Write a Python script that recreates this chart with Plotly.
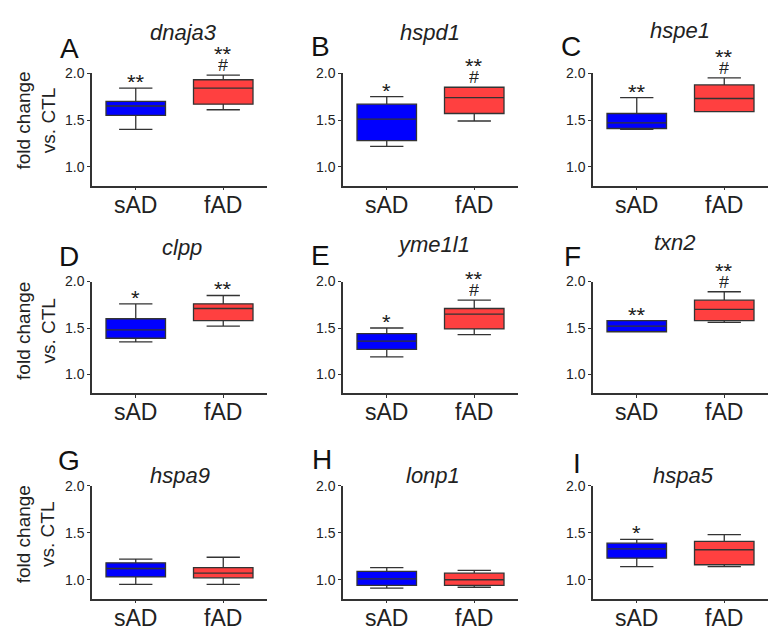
import plotly.graph_objects as go

genes = ['dnaja3', 'hspd1', 'hspe1', 'clpp', 'yme1l1', 'txn2', 'hspa9', 'lonp1', 'hspa5']
letters = ['A', 'B', 'C', 'D', 'E', 'F', 'G', 'H', 'I']
groups = ['sAD', 'fAD']
y_ticks = [1.0, 1.5, 2.0]
y_tick_text = ['1.0', '1.5', '2.0']

# box statistics per gene: lower whisker, q1, median, q3, upper whisker
sad_low = [1.40, 1.22, 1.40, 1.35, 1.19, 1.46, 0.95, 0.91, 1.14]
sad_q1 = [1.55, 1.28, 1.41, 1.39, 1.27, 1.46, 1.03, 0.94, 1.23]
sad_med = [1.65, 1.51, 1.47, 1.48, 1.36, 1.52, 1.12, 1.01, 1.33]
sad_q3 = [1.70, 1.67, 1.57, 1.60, 1.44, 1.58, 1.18, 1.09, 1.39]
sad_high = [1.84, 1.75, 1.74, 1.76, 1.50, 1.58, 1.22, 1.13, 1.43]

fad_low = [1.61, 1.49, 1.59, 1.52, 1.43, 1.56, 0.95, 0.92, 1.14]
fad_q1 = [1.67, 1.57, 1.59, 1.58, 1.49, 1.58, 1.02, 0.94, 1.16]
fad_med = [1.84, 1.74, 1.73, 1.71, 1.65, 1.70, 1.07, 1.00, 1.32]
fad_q3 = [1.93, 1.85, 1.875, 1.76, 1.71, 1.80, 1.13, 1.07, 1.41]
fad_high = [1.98, 1.85, 1.95, 1.85, 1.80, 1.89, 1.24, 1.10, 1.48]

sad_stars = ['**', '*', '**', '*', '*', '**', '', '', '*']
fad_stars = ['**', '**', '**', '**', '**', '**', '', '', '']
fad_hash = ['#', '#', '#', '', '#', '#', '', '', '']

W, H = 777, 639
FONT = 'Liberation Sans, Arial, sans-serif'
col_px = [(92, 267), (343, 518), (593, 768)]
row_px = [(66, 180), (277, 390), (484, 598)]
AX = '#333333'
STAR_FONT = dict(size=22, family=FONT, color='#222')
HASH_FONT = dict(size=18, family=FONT, color='#222')

fig = go.Figure()
layout = dict(width=W, height=H, margin=dict(l=0, r=0, t=0, b=0),
              paper_bgcolor='white', plot_bgcolor='white', showlegend=False,
              font=dict(family=FONT, color='#222222'))
annotations = []


def star_ann(xcat, yval, xa, ya, text, shift):
    # compact box (asterisks sit high in the line box)
    return dict(x=xcat, y=yval, xref=xa, yref=ya, text=text, showarrow=False,
                yanchor='bottom', yshift=shift, height=12, valign='top', font=STAR_FONT)


for i, g in enumerate(genes):
    r, c = divmod(i, 3)
    n = '' if i == 0 else str(i + 1)
    xa, ya = 'x' + n, 'y' + n
    x0, x1 = col_px[c]
    y0, y1 = row_px[r]
    stats = [
        ('sAD', sad_low[i], sad_q1[i], sad_med[i], sad_q3[i], sad_high[i], '#0000ff'),
        ('fAD', fad_low[i], fad_q1[i], fad_med[i], fad_q3[i], fad_high[i], '#ff4040'),
    ]
    for name, lo, q1, md, q3, hi, col in stats:
        fig.add_trace(go.Box(
            x=[name], q1=[q1], median=[md], q3=[q3], lowerfence=[lo], upperfence=[hi],
            fillcolor=col, line=dict(color=AX, width=1.3), width=0.68,
            whiskerwidth=0.56, boxpoints=False, xaxis=xa, yaxis=ya, hoverinfo='skip'))
    layout['xaxis' + n] = dict(
        domain=[x0 / W, x1 / W], anchor=ya, type='category', categoryorder='array',
        categoryarray=groups, range=[-0.5, 1.5], showline=True, linecolor=AX, linewidth=1.5,
        ticks='outside', ticklen=3, tickcolor=AX, tickwidth=1.2, ticklabelstandoff=-5,
        tickfont=dict(size=23, family=FONT, color='#222'), showgrid=False, zeroline=False)
    layout['yaxis' + n] = dict(
        domain=[1 - y1 / H, 1 - y0 / H], anchor=xa, range=[0.8, 2.0],
        tickvals=y_ticks, ticktext=y_tick_text, showline=True, linecolor=AX, linewidth=1.5,
        ticks='outside', ticklen=3, tickcolor=AX, tickwidth=1.2,
        tickfont=dict(size=14, family=FONT, color='#222'), showgrid=False, zeroline=False)

    # significance marks
    if sad_stars[i]:
        annotations.append(star_ann('sAD', sad_high[i], xa, ya, sad_stars[i], 4))
    if fad_hash[i]:
        annotations.append(dict(x='fAD', y=fad_high[i], xref=xa, yref=ya, text=fad_hash[i],
                                showarrow=False, yanchor='bottom', yshift=-2,
                                height=16, valign='bottom', font=HASH_FONT))
        annotations.append(star_ann('fAD', fad_high[i], xa, ya, fad_stars[i], 19))
    elif fad_stars[i]:
        annotations.append(star_ann('fAD', fad_high[i], xa, ya, fad_stars[i], 4))

# panel letters
letter_px = [(69, 41), (320, 39), (571, 39), (69, 252), (320, 251), (572, 252),
             (69, 458), (322, 457), (577, 461)]
for L, (px, py) in zip(letters, letter_px):
    annotations.append(dict(x=px / W, y=1 - py / H, xref='paper', yref='paper', text=L,
                            showarrow=False, xanchor='center', yanchor='middle',
                            font=dict(size=28, family=FONT, color='#111')))

# gene titles
title_px = [(183, 25), (430, 25), (680, 23), (182, 243), (433, 240), (675, 237),
            (180, 473), (433, 473), (683, 473)]
for g, (px, py) in zip(genes, title_px):
    annotations.append(dict(x=px / W, y=1 - py / H, xref='paper', yref='paper',
                            text='<i>' + g + '</i>', showarrow=False,
                            xanchor='center', yanchor='middle',
                            font=dict(size=22, family=FONT, color='#222')))

# y axis titles for the first column
for yc in [114, 327, 533]:
    annotations.append(dict(x=36 / W, y=1 - yc / H, xref='paper', yref='paper',
                            text='fold change<br>vs. CTL', showarrow=False, textangle=-90,
                            xanchor='center', yanchor='middle',
                            font=dict(size=19, family=FONT, color='#222')))

layout['annotations'] = annotations
fig.update_layout(**layout)
post = ("document.body.style.margin='0';document.body.style.padding='0';"
        "var d=document.querySelector('.plotly-graph-div');"
        "d.style.position='absolute';d.style.top='0px';d.style.left='0px';")
fig.write_html('out.html', post_script=post, config={'displayModeBar': False})
